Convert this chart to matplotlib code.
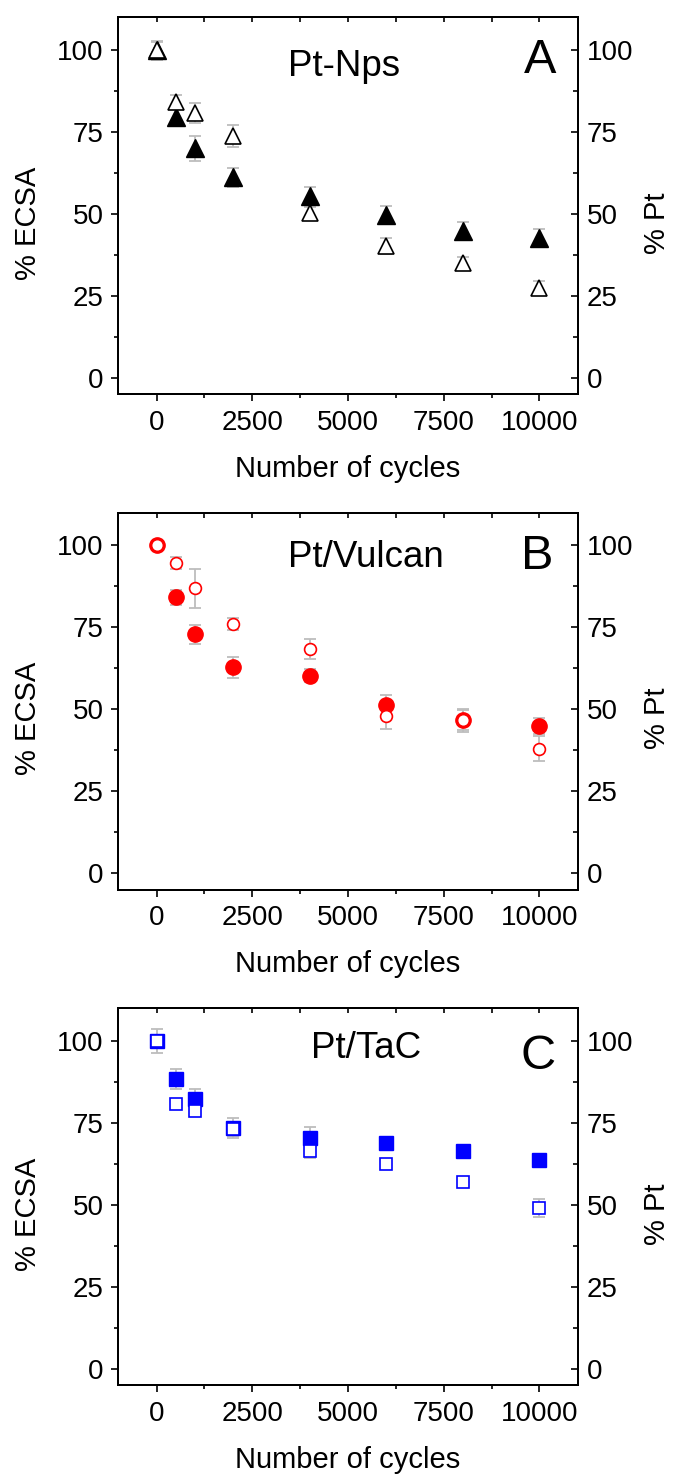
#!/usr/bin/env python3

import matplotlib

matplotlib.use("Agg")
import matplotlib.pyplot as plt
from matplotlib.ticker import MultipleLocator


FIGURE_WIDTH_PX = 678
FIGURE_HEIGHT_PX = 1479
FIGURE_DPI = 100
ERROR_COLOR = "#bdbdbd"

CYCLES = [0, 500, 1000, 2000, 4000, 6000, 8000, 10000]

NPS_ECSA = [100, 79.7, 70.0, 61.2, 55.6, 49.7, 44.9, 42.6]
NPS_ECSA_ERR = [2.5, 2.8, 3.7, 2.9, 2.7, 2.7, 2.8, 2.8]
NPS_PT = [100, 84.2, 80.9, 73.8, 50.2, 40.2, 35.0, 27.5]
NPS_PT_ERR = [2.9, 2.0, 3.0, 3.5, 2.0, 2.5, 2.0, 2.0]

VULCAN_ECSA = [100, 84.2, 72.9, 62.8, 60.3, 51.2, 46.8, 44.8]
VULCAN_ECSA_ERR = [1.0, 2.3, 2.9, 3.1, 2.0, 3.2, 3.0, 2.4]
VULCAN_PT = [100, 94.6, 86.9, 76.1, 68.5, 48.1, 46.6, 38.0]
VULCAN_PT_ERR = [1.0, 1.8, 6.0, 1.9, 3.0, 4.1, 3.5, 3.9]

TAC_ECSA = [100, 88.4, 82.2, 73.4, 70.3, 68.8, 66.3, 63.6]
TAC_ECSA_ERR = [1.0, 3.0, 3.2, 3.0, 3.6, 1.5, 1.5, 1.5]
TAC_PT = [100, 80.8, 78.8, 73.1, 66.3, 62.5, 56.9, 49.0]
TAC_PT_ERR = [3.7, 1.0, 1.5, 2.0, 2.0, 1.0, 1.5, 2.8]

PANEL_TITLES = ["Pt-Nps", "Pt/Vulcan", "Pt/TaC"]
PANEL_LETTERS = ["A", "B", "C"]

# left, bottom, width, height (figure fraction) for each panel
PANEL_BOXES = [
    (0.1745, 0.7334, 0.6776, 0.2549),
    (0.1745, 0.3985, 0.6776, 0.2549),
    (0.1745, 0.0634, 0.6776, 0.2549),
]
TITLE_POS = [(0.491, 0.869), (0.538, 0.881), (0.539, 0.892)]
LETTER_POS = [(0.918, 0.885), (0.911, 0.883), (0.913, 0.873)]


def style_axes(ax, twin) -> None:
    ax.set_xlim(-1000, 11000)
    ax.set_ylim(-5, 110)
    twin.set_ylim(-5, 110)
    for axis in (ax, twin):
        axis.yaxis.set_major_locator(MultipleLocator(25))
        axis.yaxis.set_minor_locator(MultipleLocator(12.5))
        for spine in axis.spines.values():
            spine.set_linewidth(1.4)
    ax.xaxis.set_major_locator(MultipleLocator(2500))
    ax.xaxis.set_minor_locator(MultipleLocator(1250))

    ax.tick_params(axis="y", which="major", direction="out", length=5,
                   width=1.2, labelsize=20, pad=5.5)
    ax.tick_params(axis="y", which="minor", direction="out", length=3, width=1.2)
    ax.tick_params(axis="x", which="major", direction="out", length=5,
                   width=1.2, labelsize=20, pad=6, top=False)
    ax.tick_params(axis="x", which="minor", direction="out", length=3,
                   width=1.2, top=False)

    twin.tick_params(axis="y", which="major", direction="in", length=5,
                     width=1.2, labelsize=20, pad=6.5)
    twin.tick_params(axis="y", which="minor", direction="in", length=3.5, width=1.2)

    # inward ticks on the top spine
    top = ax.secondary_xaxis("top")
    top.xaxis.set_major_locator(MultipleLocator(2500))
    top.xaxis.set_minor_locator(MultipleLocator(1250))
    top.tick_params(axis="x", which="both", direction="in", length=3.5,
                    width=1.2, labeltop=False)
    top.spines["top"].set_linewidth(1.4)


def draw_panel(ax, filled, filled_err, hollow, hollow_err, marker, color,
               filled_size, hollow_size) -> None:
    for values, errors in ((filled, filled_err), (hollow, hollow_err)):
        ax.errorbar(CYCLES, values, yerr=errors, fmt="none", ecolor=ERROR_COLOR,
                    elinewidth=1.3, capsize=4.3, capthick=1.3, zorder=1)
    ax.plot(CYCLES, filled, linestyle="none", marker=marker,
            markersize=filled_size, color=color, markeredgecolor=color, zorder=2)
    ax.plot(CYCLES, hollow, linestyle="none", marker=marker,
            markersize=hollow_size, markerfacecolor="white",
            markeredgecolor=color, markeredgewidth=1.2, zorder=3)


def main() -> int:
    plt.rcParams["font.family"] = ["Liberation Sans", "DejaVu Sans"]
    fig = plt.figure(
        figsize=(FIGURE_WIDTH_PX / FIGURE_DPI, FIGURE_HEIGHT_PX / FIGURE_DPI),
        dpi=FIGURE_DPI,
    )

    series = [
        (NPS_ECSA, NPS_ECSA_ERR, NPS_PT, NPS_PT_ERR, "^", "black", 13, 11.5),
        (VULCAN_ECSA, VULCAN_ECSA_ERR, VULCAN_PT, VULCAN_PT_ERR, "o", "#ff0000", 11, 8.5),
        (TAC_ECSA, TAC_ECSA_ERR, TAC_PT, TAC_PT_ERR, "s", "#0000ff", 10, 8.4),
    ]

    for index, box in enumerate(PANEL_BOXES):
        ax = fig.add_axes(box)
        twin = ax.twinx()
        draw_panel(ax, *series[index])
        style_axes(ax, twin)

        ax.text(*TITLE_POS[index], PANEL_TITLES[index], transform=ax.transAxes,
                ha="center", va="center", fontsize=26.5)
        ax.text(*LETTER_POS[index], PANEL_LETTERS[index], transform=ax.transAxes,
                ha="center", va="center", fontsize=35)
        ax.text(-0.1966, 0.454, "% ECSA", transform=ax.transAxes, rotation=90,
                ha="center", va="center", fontsize=21)
        ax.text(1.1726, 0.454, "% Pt", transform=ax.transAxes, rotation=90,
                ha="center", va="center", fontsize=21)
        ax.text(0.5, -0.198, "Number of cycles", transform=ax.transAxes,
                ha="center", va="center", fontsize=21)

    fig.savefig("out.png", dpi=FIGURE_DPI)
    return 0


if __name__ == "__main__":
    raise SystemExit(main())
